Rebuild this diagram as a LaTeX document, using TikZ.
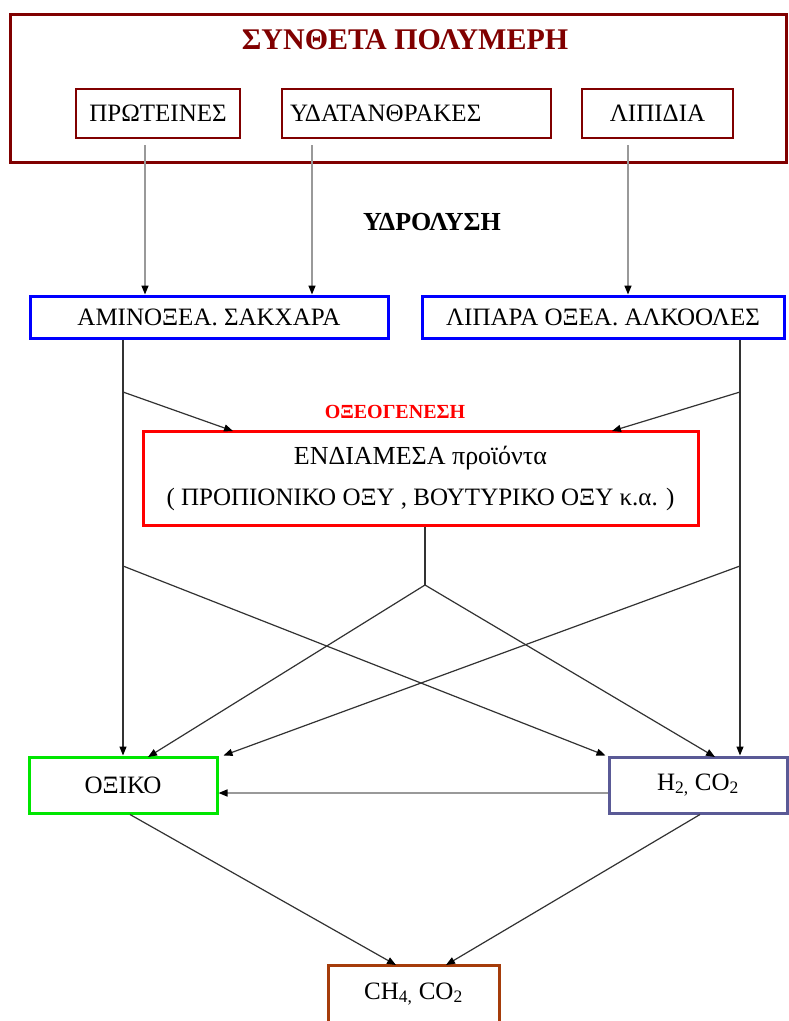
\documentclass[tikz,border=0pt]{standalone}
\usepackage{fontspec}
\setmainfont{Liberation Serif}
\usetikzlibrary{arrows.meta}
\definecolor{polyred}{RGB}{128,0,0}
\definecolor{boxblue}{RGB}{0,0,255}
\definecolor{boxgreen}{RGB}{0,230,0}
\definecolor{slate}{RGB}{90,90,150}
\definecolor{brownbox}{RGB}{165,60,10}
\definecolor{linegray}{RGB}{50,50,50}
\begin{document}
\begin{tikzpicture}[x=1pt,y=-1pt,
  box/.style={draw, rectangle, inner sep=0pt, font=\fontsize{25}{29}\selectfont},
  conn/.style={draw=linegray, line width=1.2pt, -{Triangle[length=9pt,width=7pt,black]}},
  plain/.style={draw=linegray, line width=1.2pt},
  grayconn/.style={draw=gray!80, line width=1.5pt, -{Triangle[length=9pt,width=7pt,black]}}]
\useasboundingbox (0,0) rectangle (788,1021);
\fill[white] (0,0) rectangle (788,1021);
% top
\node[box, draw=polyred, line width=3pt, minimum width=776pt, minimum height=148pt] (poly) at (398,88) {};
\node[text=polyred, font=\fontsize{30}{34}\selectfont\bfseries] (title) at (405,40) {ΣΥΝΘΕΤΑ ΠΟΛΥΜΕΡΗ};
\node[box, draw=polyred, line width=1.5pt, minimum width=164pt, minimum height=49pt] (prot) at (158,113.5) {ΠΡΩΤΕΙΝΕΣ};
\node[box, draw=polyred, line width=1.5pt, minimum height=49pt, inner xsep=8pt, text width=253pt, align=left] (ydat) at (416.5,113.5) {ΥΔΑΤΑΝΘΡΑΚΕΣ};
\node[box, draw=polyred, line width=1.5pt, minimum width=151pt, minimum height=49pt] (lip) at (657.5,113.5) {ΛΙΠΙΔΙΑ};
\node[font=\fontsize{26}{30}\selectfont\bfseries] (hydro) at (432,222) {ΥΔΡΟΛΥΣΗ};
% second row
\node[box, draw=boxblue, line width=3pt, minimum width=358pt, minimum height=42pt] (amino) at (209,317) {ΑΜΙΝΟΞΕΑ. ΣΑΚΧΑΡΑ};
\node[box, draw=boxblue, line width=3pt, minimum width=362pt, minimum height=42pt] (lipara) at (603,317) {ΛΙΠΑΡΑ ΟΞΕΑ. ΑΛΚΟΟΛΕΣ};
\node[text=red, font=\fontsize{20}{24}\selectfont\bfseries] (oxeo) at (395,412) {ΟΞΕΟΓΕΝΕΣΗ};
\node[box, draw=red, line width=3pt, minimum width=555pt, minimum height=94pt, align=center] (inter) at (420.5,478) {{\fontsize{26}{30}\selectfont ΕΝΔΙΑΜΕΣΑ προϊόντα}\\[12pt]( ΠΡΟΠΙΟΝΙΚΟ ΟΞΥ , ΒΟΥΤΥΡΙΚΟ ΟΞΥ κ.α. )};
% lower row
\node[box, draw=boxgreen, line width=3pt, minimum width=188pt, minimum height=56pt] (oxiko) at (123,785) {ΟΞΙΚΟ};
\node[box, draw=slate, line width=3pt, minimum width=178pt, minimum height=56pt] (hco) at (698,785) {H\textsubscript{2,} CO\textsubscript{2}};
\node[box, draw=brownbox, line width=3pt, minimum width=171pt, minimum height=58pt] (ch) at (413.5,994) {CH\textsubscript{4,} CO\textsubscript{2}};
% coordinates
\coordinate (p0) at (145,145);
\coordinate (y0) at (312,145);
\coordinate (l0) at (628,145);
\coordinate (a1) at (123,392);
\coordinate (a2) at (123,566);
\coordinate (r1) at (740,392);
\coordinate (r2) at (740,566);
\coordinate (j) at (425,585);
% hydrolysis arrows
\draw[grayconn] (p0) -- (p0 |- amino.north);
\draw[grayconn] (y0) -- (y0 |- amino.north);
\draw[grayconn] (l0) -- (l0 |- lipara.north);
% verticals
\draw[conn] (amino.south -| oxiko.north) -- (oxiko.north);
\draw[conn] (lipara.south -| r1) -- (r1 |- hco.north);
% acidogenesis
\draw[conn] (a1) -- (233,431);
\draw[conn] (r1) -- (612,431);
% intermediate
\draw[plain] (inter.south -| j) -- (j);
\draw[conn] (j) -- (148,757);
\draw[conn] (j) -- (715,757);
\draw[conn] (a2) -- ([xshift=-2pt]hco.north west);
\draw[conn] (r2) -- ([xshift=5pt]oxiko.north east);
% H2 to acetic
\draw[grayconn] ([yshift=-8pt]hco.west) -- ([yshift=-8pt]oxiko.east);
% methane
\draw[conn] (130,814.5) -- (396,965);
\draw[conn] (700,814.5) -- (446,965);
\end{tikzpicture}
\end{document}
